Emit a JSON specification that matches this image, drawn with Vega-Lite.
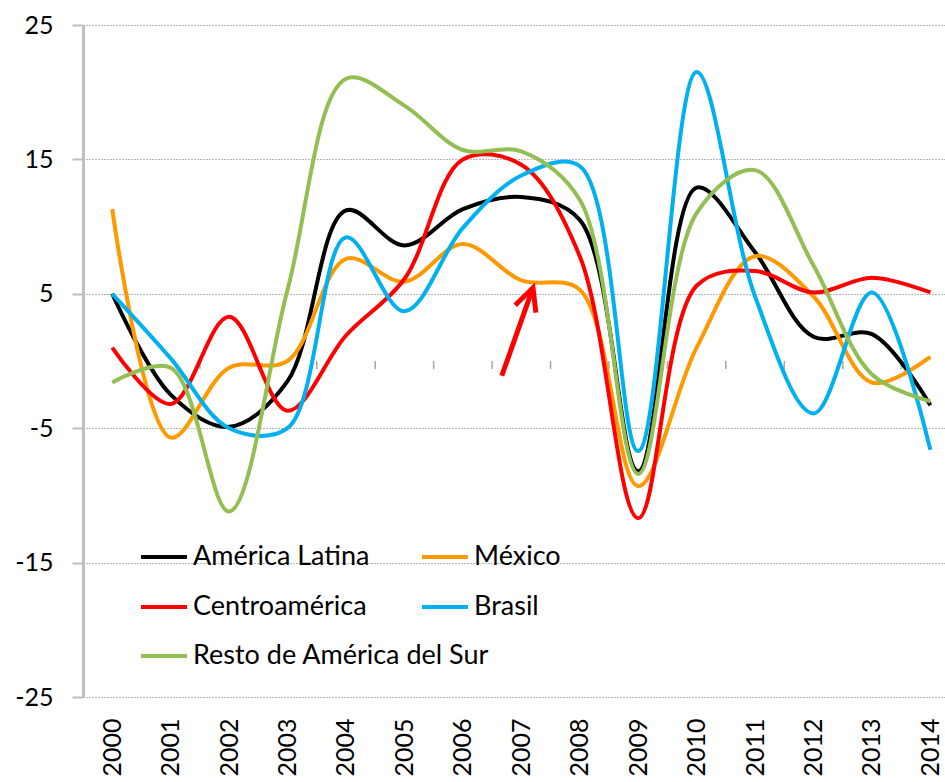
{
  "$schema": "https://vega.github.io/schema/vega-lite/v6.json",
  "width": 862,
  "height": 672,
  "autosize": {"type": "none"},
  "padding": {"left": 83, "top": 25, "right": 0, "bottom": 85},
  "background": "white",
  "config": {
    "view": {"stroke": null},
    "font": "Lato",
    "axis": {"labelFont": "Lato", "labelFontSize": 25, "labelColor": "#000000"},
    "legend": {"labelFont": "Lato", "labelFontSize": 27, "labelColor": "#000000"}
  },
  "resolve": {"scale": {"color": "independent"}},
  "datasets": {
    "series": [
      {"year": 2000, "region": "América Latina", "value": 5.0},
      {"year": 2001, "region": "América Latina", "value": -2.5},
      {"year": 2002, "region": "América Latina", "value": -4.9},
      {"year": 2003, "region": "América Latina", "value": -1.5},
      {"year": 2004, "region": "América Latina", "value": 11.2},
      {"year": 2005, "region": "América Latina", "value": 8.6},
      {"year": 2006, "region": "América Latina", "value": 11.3},
      {"year": 2007, "region": "América Latina", "value": 12.2},
      {"year": 2008, "region": "América Latina", "value": 10.5},
      {"year": 2009, "region": "América Latina", "value": -8.2},
      {"year": 2010, "region": "América Latina", "value": 12.9},
      {"year": 2011, "region": "América Latina", "value": 8.1},
      {"year": 2012, "region": "América Latina", "value": 1.8},
      {"year": 2013, "region": "América Latina", "value": 2.0},
      {"year": 2014, "region": "América Latina", "value": -3.3},
      {"year": 2000, "region": "México", "value": 11.3},
      {"year": 2001, "region": "México", "value": -5.7},
      {"year": 2002, "region": "México", "value": -0.5},
      {"year": 2003, "region": "México", "value": 0.0},
      {"year": 2004, "region": "México", "value": 7.6},
      {"year": 2005, "region": "México", "value": 5.9},
      {"year": 2006, "region": "México", "value": 8.7},
      {"year": 2007, "region": "México", "value": 6.0},
      {"year": 2008, "region": "México", "value": 5.3},
      {"year": 2009, "region": "México", "value": -9.3},
      {"year": 2010, "region": "México", "value": 1.0},
      {"year": 2011, "region": "México", "value": 7.8},
      {"year": 2012, "region": "México", "value": 4.8},
      {"year": 2013, "region": "México", "value": -1.6},
      {"year": 2014, "region": "México", "value": 0.3},
      {"year": 2000, "region": "Centroamérica", "value": 1.0},
      {"year": 2001, "region": "Centroamérica", "value": -3.2},
      {"year": 2002, "region": "Centroamérica", "value": 3.3},
      {"year": 2003, "region": "Centroamérica", "value": -3.7},
      {"year": 2004, "region": "Centroamérica", "value": 1.9},
      {"year": 2005, "region": "Centroamérica", "value": 6.1},
      {"year": 2006, "region": "Centroamérica", "value": 15.0},
      {"year": 2007, "region": "Centroamérica", "value": 14.6},
      {"year": 2008, "region": "Centroamérica", "value": 7.8},
      {"year": 2009, "region": "Centroamérica", "value": -11.7},
      {"year": 2010, "region": "Centroamérica", "value": 5.6},
      {"year": 2011, "region": "Centroamérica", "value": 6.7},
      {"year": 2012, "region": "Centroamérica", "value": 5.1},
      {"year": 2013, "region": "Centroamérica", "value": 6.2},
      {"year": 2014, "region": "Centroamérica", "value": 5.1},
      {"year": 2000, "region": "Brasil", "value": 5.0},
      {"year": 2001, "region": "Brasil", "value": 0.2},
      {"year": 2002, "region": "Brasil", "value": -5.0},
      {"year": 2003, "region": "Brasil", "value": -5.0},
      {"year": 2004, "region": "Brasil", "value": 9.2},
      {"year": 2005, "region": "Brasil", "value": 3.7},
      {"year": 2006, "region": "Brasil", "value": 9.9},
      {"year": 2007, "region": "Brasil", "value": 13.8},
      {"year": 2008, "region": "Brasil", "value": 14.5},
      {"year": 2009, "region": "Brasil", "value": -6.7},
      {"year": 2010, "region": "Brasil", "value": 21.5},
      {"year": 2011, "region": "Brasil", "value": 4.8},
      {"year": 2012, "region": "Brasil", "value": -3.9},
      {"year": 2013, "region": "Brasil", "value": 5.1},
      {"year": 2014, "region": "Brasil", "value": -6.6},
      {"year": 2000, "region": "Resto de América del Sur", "value": -1.6},
      {"year": 2001, "region": "Resto de América del Sur", "value": -0.5},
      {"year": 2002, "region": "Resto de América del Sur", "value": -11.2},
      {"year": 2003, "region": "Resto de América del Sur", "value": 5.3},
      {"year": 2004, "region": "Resto de América del Sur", "value": 21.0},
      {"year": 2005, "region": "Resto de América del Sur", "value": 19.0},
      {"year": 2006, "region": "Resto de América del Sur", "value": 15.7},
      {"year": 2007, "region": "Resto de América del Sur", "value": 15.6},
      {"year": 2008, "region": "Resto de América del Sur", "value": 12.0},
      {"year": 2009, "region": "Resto de América del Sur", "value": -8.4},
      {"year": 2010, "region": "Resto de América del Sur", "value": 11.0},
      {"year": 2011, "region": "Resto de América del Sur", "value": 14.2},
      {"year": 2012, "region": "Resto de América del Sur", "value": 7.1},
      {"year": 2013, "region": "Resto de América del Sur", "value": -1.0},
      {"year": 2014, "region": "Resto de América del Sur", "value": -3.0}
    ],
    "boundaries": [
      {"b": 2000.5}, {"b": 2001.5}, {"b": 2002.5}, {"b": 2003.5}, {"b": 2004.5},
      {"b": 2005.5}, {"b": 2006.5}, {"b": 2007.5}, {"b": 2008.5}, {"b": 2009.5},
      {"b": 2010.5}, {"b": 2011.5}, {"b": 2012.5}, {"b": 2013.5}
    ],
    "arrow": [
      {"x1": 2006.666, "y1": -1.1, "x2": 2007.2, "y2": 5.45}
    ]
  },
  "layer": [
    {
      "data": {"name": "boundaries"},
      "mark": {"type": "rule", "color": "#A6A6A6", "strokeWidth": 1.5},
      "encoding": {
        "x": {"field": "b", "type": "quantitative", "scale": {"domain": [1999.5, 2014.25], "nice": false, "zero": false}, "axis": {"values": [2000, 2001, 2002, 2003, 2004, 2005, 2006, 2007, 2008, 2009, 2010, 2011, 2012, 2013, 2014], "labelExpr": "'' + datum.value", "labelAngle": -90, "labelPadding": 21, "ticks": false, "tickSize": 0, "domain": false, "grid": false, "title": null, "labelFlush": false, "labelOverlap": false}},
        "y": {"datum": 0, "type": "quantitative", "scale": {"domain": [-25, 25], "nice": false}, "axis": {"values": [-25, -15, -5, 5, 15, 25], "labelExpr": "'' + datum.value", "grid": true, "gridColor": "#707070", "gridDash": [1, 2], "gridWidth": 1, "domain": true, "domainColor": "#BFBFBF", "domainWidth": 3, "ticks": true, "tickSize": 11, "tickColor": "#BFBFBF", "tickWidth": 2, "labelPadding": 19, "title": null}},
        "y2": {"datum": -0.6}
      }
    },
    {
      "mark": {"type": "rule", "color": "#A0A0A0", "strokeWidth": 2},
      "encoding": {"y": {"datum": 0, "type": "quantitative"}}
    },
    {
      "data": {"name": "series"},
      "transform": [{"filter": "datum.region !== 'Resto de América del Sur'"}],
      "mark": {"type": "line", "interpolate": "catmull-rom", "strokeWidth": 4},
      "encoding": {
        "x": {"field": "year", "type": "quantitative"},
        "y": {"field": "value", "type": "quantitative"},
        "color": {
          "field": "region",
          "type": "nominal",
          "scale": {
            "domain": ["América Latina", "México", "Centroamérica", "Brasil"],
            "range": ["#000000", "#FF9900", "#FF0000", "#00B0F0"]
          },
          "legend": {
            "title": null,
            "orient": "none",
            "direction": "horizontal",
            "legendX": 56,
            "legendY": 507,
            "columns": 2,
            "columnPadding": 44,
            "rowPadding": 12,
            "padding": 0,
            "labelLimit": 600,
            "symbolType": "stroke",
            "symbolSize": 2116,
            "symbolStrokeWidth": 4,
            "labelOffset": 4
          }
        }
      }
    },
    {
      "data": {"name": "series"},
      "transform": [{"filter": "datum.region === 'Resto de América del Sur'"}],
      "mark": {"type": "line", "interpolate": "catmull-rom", "strokeWidth": 4},
      "encoding": {
        "x": {"field": "year", "type": "quantitative"},
        "y": {"field": "value", "type": "quantitative"},
        "color": {
          "field": "region",
          "type": "nominal",
          "scale": {
            "domain": ["Resto de América del Sur"],
            "range": ["#92BE52"]
          },
          "legend": {
            "title": null,
            "orient": "none",
            "legendX": 56,
            "legendY": 606,
            "padding": 0,
            "labelLimit": 600,
            "symbolType": "stroke",
            "symbolSize": 2116,
            "symbolStrokeWidth": 4,
            "labelOffset": 4
          }
        }
      }
    },
    {
      "data": {"name": "arrow"},
      "mark": {"type": "rule", "color": "#FF0000", "strokeWidth": 5},
      "encoding": {
        "x": {"field": "x1", "type": "quantitative"},
        "y": {"field": "y1", "type": "quantitative"},
        "x2": {"field": "x2"},
        "y2": {"field": "y2"}
      }
    },
    {
      "data": {"name": "arrow"},
      "mark": {"type": "point", "shape": "M -0.44 0.9 L 0 0 L 0.44 0.9", "filled": false, "color": "#FF0000", "strokeWidth": 5, "size": 2500, "angle": 19.4, "opacity": 1},
      "encoding": {
        "x": {"field": "x2", "type": "quantitative"},
        "y": {"field": "y2", "type": "quantitative"}
      }
    }
  ]
}
